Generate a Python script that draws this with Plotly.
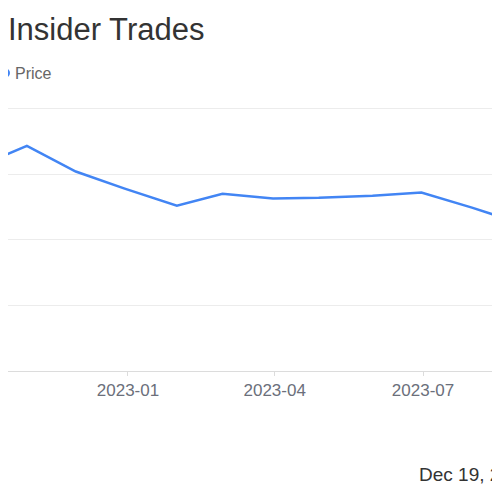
import plotly.graph_objects as go

# month-end closing prices
dates = ["2022-09-30", "2022-10-31", "2022-11-30", "2022-12-30", "2023-01-31",
         "2023-02-28", "2023-03-31", "2023-04-28", "2023-05-31", "2023-06-30",
         "2023-07-31", "2023-08-31"]
prices = [31.1, 34.3, 30.4, 27.8, 25.2, 27.0, 26.3, 26.4, 26.7, 27.2, 24.9, 22.4]

title_text = "Insider Trades"
legend_text = "Price"
footer_text = "Dec 19, 2023"

FONT = "Liberation Sans, Arial, sans-serif"
OFF = 8  # the page body adds an 8px margin, so the figure is shifted by that
W, H = 500 - OFF, 500 - 2 * OFF
PLOT_TOP, PLOT_BOTTOM = 102 - OFF, 371 - OFF


def px_x(wx):
    # window pixel column -> paper x
    return (wx - OFF) / W


def px_y(wy):
    # window pixel row -> paper y
    return (PLOT_BOTTOM - (wy - OFF)) / (PLOT_BOTTOM - PLOT_TOP)


fig = go.Figure()
fig.add_trace(go.Scatter(x=dates, y=prices, mode="lines", name=legend_text,
                         line=dict(color="#4285f4", width=2.5),
                         showlegend=False))

fig.update_layout(
    width=W, height=H,
    margin=dict(l=0, r=0, t=PLOT_TOP, b=H - PLOT_BOTTOM),
    paper_bgcolor="white", plot_bgcolor="white",
    font=dict(family=FONT, color="#666"),
    title=dict(text=title_text, xref="container", x=0, xanchor="left",
               yref="container", y=1 - (29.5 - OFF) / H, yanchor="middle",
               font=dict(size=31, color="#333", family=FONT)),
    xaxis=dict(range=["2022-10-19 10:00", "2023-08-17 05:00"],
               tick0="2022-10-01", dtick="M3", tickformat="%Y-%m",
               showgrid=False, showline=True, linecolor="#dcdcdc", linewidth=1,
               ticks="outside", ticklen=4, tickcolor="#dcdcdc",
               tickfont=dict(size=17, color="#6b6f7b")),
    yaxis=dict(range=[0, 41], dtick=10, showticklabels=False,
               showgrid=True, gridcolor="#ececec", gridwidth=1,
               zeroline=False),
    annotations=[
        dict(text=legend_text, xref="paper", yref="paper",
             x=px_x(13), y=px_y(73), xanchor="left", yanchor="middle",
             showarrow=False, font=dict(size=16, color="#666")),
        dict(text=footer_text, xref="paper", yref="paper",
             x=px_x(417), y=px_y(474), xanchor="left", yanchor="middle",
             showarrow=False, font=dict(size=19, color="#333")),
    ],
    shapes=[
        # legend dot (mostly cut off at the left)
        dict(type="circle", xref="paper", yref="paper",
             x0=px_x(1), x1=px_x(10), y0=px_y(77.5), y1=px_y(68.5),
             fillcolor="#4285f4", line=dict(width=0)),
        # right edge of the card
        dict(type="line", xref="paper", yref="paper",
             x0=px_x(497.5), x1=px_x(497.5), y0=px_y(0), y1=px_y(500),
             line=dict(color="#333", width=2)),
    ],
)

fig.write_html("out.html")
